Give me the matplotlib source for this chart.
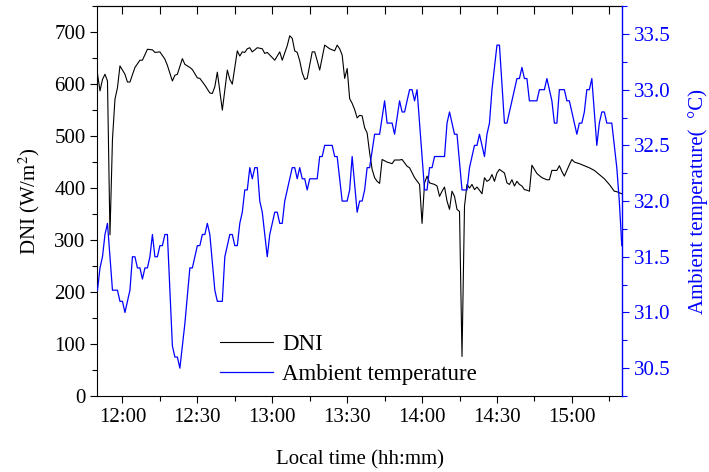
import numpy as np
import matplotlib
matplotlib.use("Agg")
import matplotlib.pyplot as plt
from matplotlib.ticker import FuncFormatter, MultipleLocator

plt.rcParams['font.family'] = ['Liberation Serif', 'DejaVu Serif']
plt.rcParams['mathtext.fontset'] = 'stix'

# minutes after 11:50
start = 11 * 60 + 50

dni_min = [0, 1, 2, 3, 4, 5, 6, 7, 8, 9, 11, 12, 13, 15, 17, 18, 20, 22, 23, 25,
           27, 28, 30, 31, 32, 34, 35, 37, 38, 40, 41, 43, 45, 46, 47, 48, 50, 52, 53, 54,
           56, 57, 58, 59, 60, 61, 62, 64, 66, 67, 68, 69, 71, 72, 73, 74, 76, 77, 78, 79,
           80, 81, 82, 83, 84, 86, 87, 88, 89, 91, 93, 95, 96, 97, 98, 99, 100, 101, 102, 103,
           104, 105, 106, 107, 108, 109, 110, 111, 112, 113, 114, 116, 118, 119, 121, 122, 124, 125, 127, 129,
           130, 131, 132, 133, 135, 136, 137, 138, 139, 140, 141, 142, 143, 144, 145, 146, 147, 148, 149, 150,
           151, 152, 153, 154, 155, 156, 157, 158, 159, 160, 161, 163, 164, 165, 166, 167, 168, 169, 170, 171,
           172, 173, 174, 175, 176, 178, 180, 181, 182, 184, 185, 186, 187, 189, 190, 191, 193, 195, 197, 199,
           201, 203, 205, 207, 208, 210]
dni = [620, 587, 609, 619, 606, 310, 494, 571, 593, 635, 619, 604, 604, 632, 646, 646, 667, 666, 661, 662,
       648, 636, 606, 617, 619, 649, 638, 632, 628, 612, 611, 598, 583, 582, 595, 623, 550, 627, 609, 600,
       664, 654, 662, 661, 668, 670, 662, 670, 668, 659, 661, 656, 646, 654, 662, 646, 674, 693, 688, 664,
       661, 645, 622, 609, 611, 662, 662, 645, 627, 675, 668, 664, 675, 668, 656, 611, 630, 572, 563, 551,
       535, 540, 539, 516, 506, 468, 436, 420, 413, 409, 455, 450, 447, 454, 454, 455, 442, 439, 420, 407,
       332, 410, 423, 410, 407, 404, 384, 394, 402, 375, 359, 394, 384, 359, 355, 76, 365, 407, 400, 407,
       397, 402, 396, 389, 420, 413, 416, 426, 413, 429, 436, 429, 410, 407, 416, 404, 413, 407, 404, 397,
       396, 394, 444, 436, 428, 420, 416, 416, 434, 434, 443, 432, 423, 445, 455, 450, 447, 443, 439, 434,
       426, 418, 407, 394, 393, 389]

temp_min = [0, 1, 2, 3, 4, 6, 8, 9, 10, 11, 13, 14, 15, 16, 17, 18, 19, 20, 21, 22,
            23, 24, 25, 26, 27, 28, 30, 31, 32, 33, 35, 37, 38, 40, 41, 42, 43, 44, 45, 47,
            48, 50, 51, 52, 53, 54, 55, 56, 57, 58, 59, 60, 61, 62, 63, 64, 65, 66, 67, 68,
            69, 70, 71, 72, 73, 74, 75, 76, 77, 78, 79, 80, 81, 82, 83, 84, 85, 88, 89, 90,
            91, 94, 95, 96, 97, 98, 100, 101, 102, 104, 105, 106, 107, 108, 109, 111, 113, 115, 116, 118,
            119, 121, 122, 123, 125, 126, 127, 128, 131, 132, 133, 134, 135, 139, 140, 141, 143, 144, 146, 148,
            149, 150, 151, 152, 153, 155, 156, 157, 158, 160, 161, 163, 164, 168, 169, 170, 171, 172, 173, 176,
            177, 179, 180, 182, 183, 184, 185, 187, 188, 189, 192, 193, 194, 195, 196, 197, 198, 200, 201, 202,
            203, 204, 206, 208, 209, 210]
temp = [31.2, 31.4, 31.5, 31.7, 31.8, 31.2, 31.2, 31.1, 31.1, 31.0, 31.2, 31.5, 31.5, 31.4, 31.4, 31.3, 31.4, 31.4, 31.5, 31.7,
        31.5, 31.5, 31.6, 31.6, 31.7, 31.7, 30.7, 30.6, 30.6, 30.5, 30.9, 31.4, 31.4, 31.6, 31.6, 31.7, 31.7, 31.8, 31.7, 31.2,
        31.1, 31.1, 31.5, 31.6, 31.7, 31.7, 31.6, 31.6, 31.8, 31.9, 32.1, 32.1, 32.3, 32.2, 32.3, 32.3, 32.0, 31.9, 31.7, 31.5,
        31.7, 31.8, 31.9, 31.9, 31.8, 31.8, 32.0, 32.1, 32.2, 32.3, 32.3, 32.2, 32.3, 32.2, 32.2, 32.1, 32.2, 32.2, 32.4, 32.4,
        32.5, 32.5, 32.4, 32.4, 32.2, 32.0, 32.0, 32.1, 32.4, 31.9, 32.0, 32.0, 32.1, 32.3, 32.3, 32.6, 32.6, 32.9, 32.7, 32.7,
        32.6, 32.9, 32.8, 32.8, 33.0, 33.0, 32.9, 33.0, 32.1, 32.1, 32.3, 32.3, 32.4, 32.4, 32.7, 32.8, 32.6, 32.6, 32.1, 32.1,
        32.3, 32.4, 32.5, 32.5, 32.6, 32.4, 32.6, 32.7, 33.0, 33.4, 33.4, 32.7, 32.7, 33.1, 33.1, 33.2, 33.1, 33.1, 32.9, 32.9,
        33.0, 33.0, 33.1, 32.9, 32.7, 32.7, 33.0, 33.0, 32.9, 32.9, 32.6, 32.7, 32.7, 32.8, 33.0, 33.0, 33.1, 32.5, 32.7, 32.8,
        32.8, 32.7, 32.7, 32.3, 32.0, 31.6]

blue = '#0000ff'

fig = plt.figure(figsize=(7.09, 4.72), dpi=100)
ax = fig.add_axes([0.1375, 0.161, 0.7395, 0.826])
ax2 = ax.twinx()

l1, = ax.plot(start + np.array(dni_min), dni, color='black', lw=0.8, label='DNI')
l2, = ax2.plot(start + np.array(temp_min), temp, color=blue, lw=0.9, label='Ambient temperature')

ax.set_xlim(start, start + 210)
ax.set_ylim(0, 750)
ax2.set_ylim(30.25, 33.75)

ax.xaxis.set_major_locator(MultipleLocator(30))
ax.xaxis.set_minor_locator(MultipleLocator(15))
ax.xaxis.set_major_formatter(FuncFormatter(lambda v, p: f"{int(round(v)) // 60}:{int(round(v)) % 60:02d}"))
ax.yaxis.set_major_locator(MultipleLocator(100))
ax.yaxis.set_minor_locator(MultipleLocator(50))
ax2.yaxis.set_major_locator(MultipleLocator(0.5))
ax2.yaxis.set_minor_locator(MultipleLocator(0.25))
ax2.yaxis.set_major_formatter(FuncFormatter(lambda v, p: f"{v:.1f}"))

ax.tick_params(which='major', direction='out', length=5, width=0.8, labelsize=15)
ax.tick_params(which='minor', direction='out', length=3.5, width=0.8)
ax2.tick_params(which='major', direction='out', length=5, width=0.8, labelsize=15,
                colors=blue)
ax2.tick_params(which='minor', direction='out', length=3.5, width=0.8, colors=blue)

top = ax.secondary_xaxis('top')
top.set_xticks(np.arange(start + 10, start + 211, 15))
top.set_xticklabels([])
top.tick_params(direction='in', length=6, width=0.8)
top.spines['top'].set_linewidth(0.8)

for s in ['left', 'bottom', 'top']:
    ax.spines[s].set_linewidth(0.8)
ax.spines['right'].set_visible(False)
ax2.spines['right'].set_color(blue)
ax2.spines['right'].set_linewidth(1.0)
for s in ['left', 'bottom', 'top']:
    ax2.spines[s].set_visible(False)

ax.set_xlabel('Local time (hh:mm)', fontsize=15, labelpad=17)
ax.set_ylabel('DNI (W/m$^2$)', fontsize=15, labelpad=9)
ax2.set_ylabel('Ambient temperature(  \u00b0C)', fontsize=15, color=blue, labelpad=13)

ax.legend([l1, l2], ['DNI', 'Ambient temperature'], loc='upper left',
          bbox_to_anchor=(0.234, 0.16), frameon=False, fontsize=16.5,
          handlelength=2.3, handletextpad=0.4, labelspacing=0.4,
          borderaxespad=0, borderpad=0)

fig.savefig('out.png', dpi=100)
